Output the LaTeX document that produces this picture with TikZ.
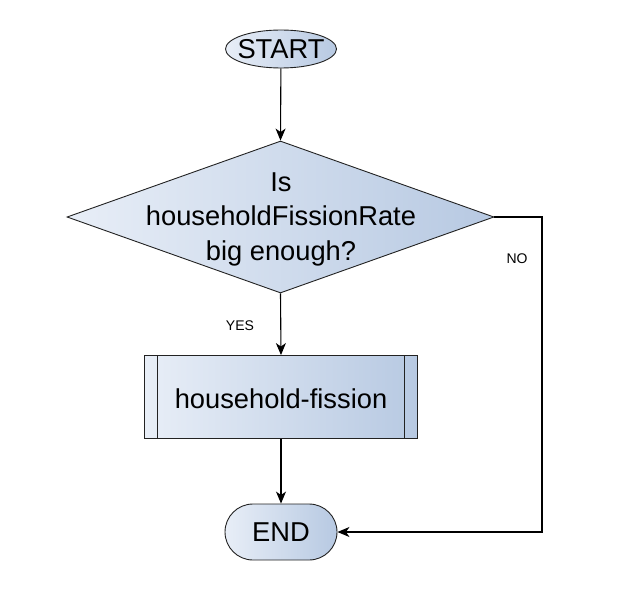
\documentclass[tikz,border=0pt]{standalone}
\usepackage{fontspec}
\setmainfont{Liberation Sans}
\usetikzlibrary{shapes.geometric,arrows.meta}
\definecolor{shL}{HTML}{E8EEF7}
\definecolor{shR}{HTML}{B7C9E2}
\definecolor{edge}{HTML}{222222}
\begin{document}
\begin{tikzpicture}[x=1pt,y=-1pt,
  shapebox/.style={draw=edge,line width=0.9pt,left color=shL,right color=shR,inner sep=0pt},
  bigtext/.style={font=\fontsize{27.3}{34.5}\selectfont,align=center},
  smalltext/.style={font=\fontsize{14}{16}\selectfont},
  conn/.style={draw=black,line width=1.1pt,-{Stealth[length=12pt,width=10pt,inset=3.5pt]}}]
\useasboundingbox (0,0) rectangle (623,596);
\node[shapebox,ellipse,minimum width=111pt,minimum height=38pt] (start) at (281,49) {};
\node[bigtext] (starttext) at (281,49) {START};
\node[shapebox,diamond,minimum width=427pt,minimum height=152pt] (dec) at (280.5,217) {};
\node[bigtext] (dectext) at (281,219) {Is\\householdFissionRate\\big enough?};
\node[shapebox,rectangle,minimum width=273pt,minimum height=83pt] (proc) at (281,397) {};
\node[bigtext] (proctext) at (281,399) {household-fission};
\draw[draw=edge,line width=0.9pt] ([xshift=13.5pt]proc.north west) -- ([xshift=13.5pt]proc.south west);
\draw[draw=edge,line width=0.9pt] ([xshift=-13.5pt]proc.north east) -- ([xshift=-13.5pt]proc.south east);
\node[shapebox,rectangle,rounded corners=28pt,minimum width=112pt,minimum height=56pt,bigtext] (end) at (281,532) {END};
\coordinate (noturn) at (542,217);
\node[smalltext] (yes) at (240,326) {YES};
\node[smalltext] (no) at (517,259) {NO};
\draw[conn] (start) -- (dec.north);
\draw[conn] (dec.south) -- (proc.north);
\draw[conn] (proc.south) -- (end.north);
\draw[conn] (dec.east) -- (noturn) |- (end.east);
\end{tikzpicture}
\end{document}
